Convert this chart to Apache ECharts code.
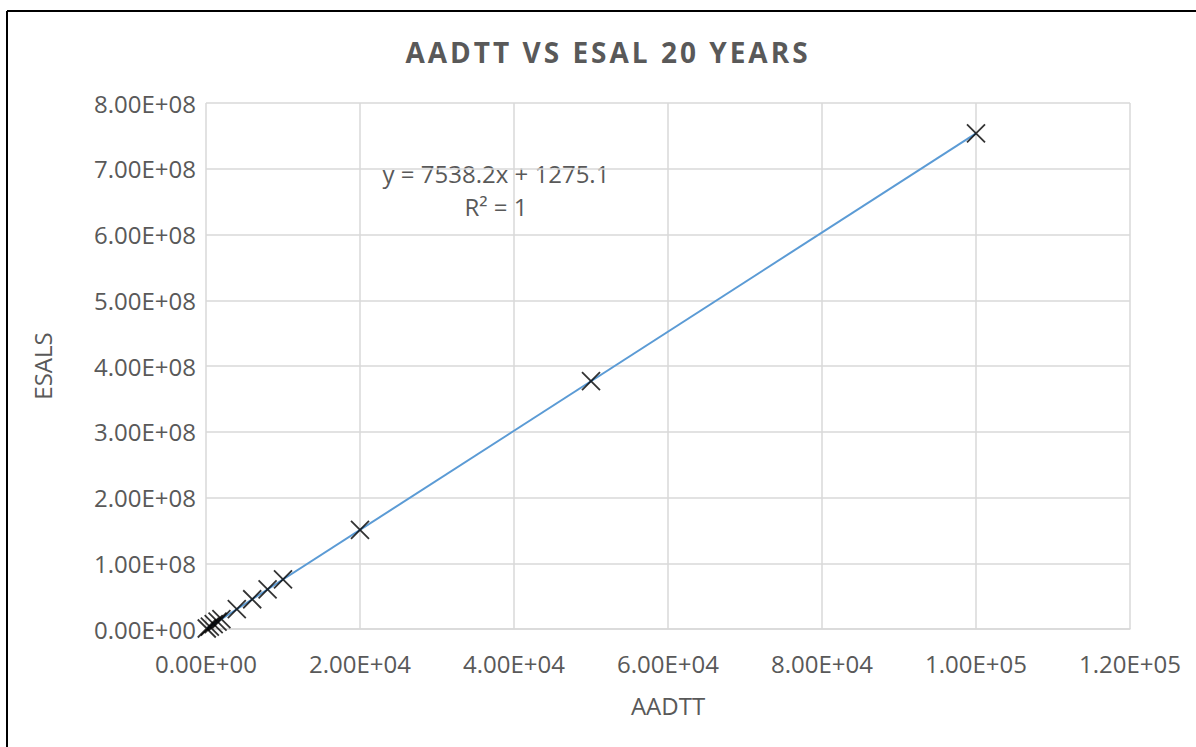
<!DOCTYPE html>
<html>
<head>
<meta charset="utf-8">
<script src="https://cdn.jsdelivr.net/npm/echarts@6/dist/echarts.min.js"></script>
<style>
html,body{margin:0;padding:0;background:#fff;}
#chart{width:1196px;height:747px;}
</style>
</head>
<body>
<div id="chart"></div>
<script>
const chartTitle = 'AADTT VS ESAL 20 YEARS';
const xAxisName = 'AADTT';
const yAxisName = 'ESALS';
const aadtt = [100, 500, 1000, 1500, 2000, 4000, 6000, 8000, 10000, 20000, 50000, 100000];
const esals = [755095, 3770375, 7539475, 11308575, 15077675, 30154075, 45230475, 60306875, 75383275, 150765275, 376911275, 753821275];
const trendX = [100, 100000];
const trendY = [755095, 753821275];
const equationLines = ['y = 7538.2x + 1275.1', 'R² = 1'];

function sci(v) {
  if (v === 0) return '0.00E+00';
  const e = Math.floor(Math.log10(Math.abs(v)) + 1e-9);
  const m = v / Math.pow(10, e);
  return m.toFixed(2) + 'E' + (e < 0 ? '-' : '+') + String(Math.abs(e)).padStart(2, '0');
}

const FONT = '"Open Sans", "Liberation Sans", sans-serif';
const GREY = '#595959';
const GRID = '#d9d9d9';

const chart = echarts.init(document.getElementById('chart'), null, {renderer: 'svg'});
chart.setOption({
  animation: false,
  backgroundColor: '#fff',
  title: {
    text: chartTitle,
    left: 603, top: 33, textAlign: 'center',
    textStyle: {fontFamily: FONT, fontSize: 28, fontWeight: 'bold', color: GREY}
  },
  grid: {left: 206, right: 66, top: 103, bottom: 118, containLabel: false},
  xAxis: {
    type: 'value', min: 0, max: 120000, interval: 20000,
    name: xAxisName, nameLocation: 'middle', nameGap: 64,
    nameTextStyle: {fontFamily: FONT, fontSize: 24, color: GREY},
    axisLine: {show: true, lineStyle: {color: GRID, width: 1.5}},
    axisTick: {show: false},
    axisLabel: {formatter: sci, fontFamily: FONT, fontSize: 24, color: GREY, margin: 22},
    splitLine: {show: true, lineStyle: {color: GRID, width: 1.5}}
  },
  yAxis: {
    type: 'value', min: 0, max: 800000000, interval: 100000000,
    name: yAxisName, nameLocation: 'middle', nameGap: 152, nameRotate: 90,
    nameTextStyle: {fontFamily: FONT, fontSize: 24, color: GREY},
    axisLine: {show: false},
    axisTick: {show: false},
    axisLabel: {formatter: sci, fontFamily: FONT, fontSize: 24, color: GREY, margin: 10},
    splitLine: {show: true, lineStyle: {color: GRID, width: 1.5}}
  },
  graphic: [
    {type: 'line', shape: {x1: 7, y1: 11, x2: 1196, y2: 11}, style: {stroke: '#000', lineWidth: 2}},
    {type: 'line', shape: {x1: 7, y1: 11, x2: 7, y2: 747}, style: {stroke: '#000', lineWidth: 2}},
    {type: 'text', x: 496, y: 173, style: {text: equationLines[0], textAlign: 'center', textVerticalAlign: 'middle', fontFamily: FONT, fontSize: 24, fill: GREY}},
    {type: 'text', x: 496, y: 206, style: {text: equationLines[1], textAlign: 'center', textVerticalAlign: 'middle', fontFamily: FONT, fontSize: 24, fill: GREY}}
  ],
  series: [
    {
      type: 'line', data: trendX.map((x, i) => [x, trendY[i]]),
      symbol: 'none', lineStyle: {color: '#5b9bd5', width: 2}, z: 2, silent: true
    },
    {
      type: 'scatter', data: aadtt.map((x, i) => [x, esals[i]]),
      symbol: 'path://M0,0L10,10M10,0L0,10', symbolSize: 18,
      itemStyle: {color: 'none', borderColor: '#000', borderWidth: 1.8}, z: 3
    }
  ]
});
document.querySelectorAll('#chart text').forEach(t => {
  if (t.textContent === chartTitle) t.style.letterSpacing = '3px';
});
</script>
</body>
</html>
